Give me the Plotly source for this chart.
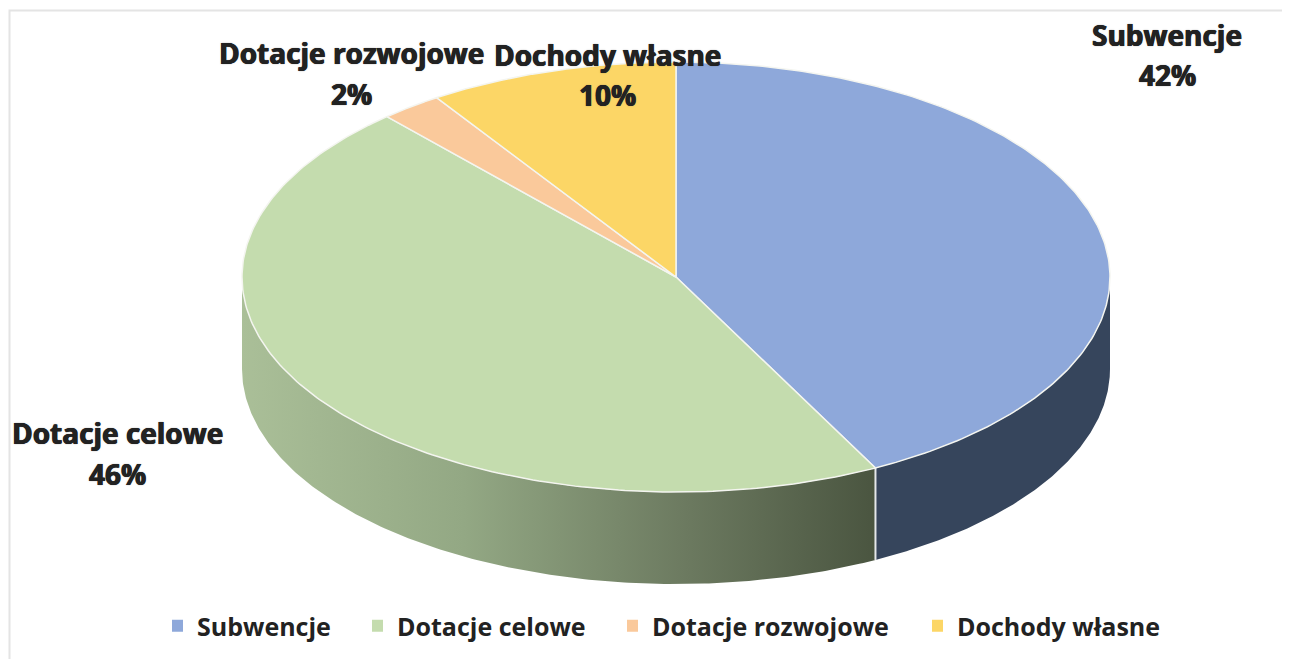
import numpy as np
import plotly.graph_objects as go

categories = ["Subwencje", "Dotacje celowe", "Dotacje rozwojowe", "Dochody własne"]
shares = [42.4, 46.0, 2.3, 9.3]
share_labels = ["42%", "46%", "2%", "10%"]
top_colors = ["#8EA8DA", "#C4DCAE", "#FAC99B", "#FCD666"]

# drawing geometry of the tilted disc (pixel-space axes)
CX, CY, RX, RY, DEPTH = 676, 277, 434, 215, 92
FONT = "'Open Sans', Lato, sans-serif"
TEXT = "#222222"
SHADOW = "0.5px 0 0 #222222, -0.5px 0 0 #222222, 0 0 1.5px #55555588"
# the page has an 8px body margin; the figure fills the rest of the window
OFF = 8
W, H = 1290, 659

def rim(t0, t1, dy=0.0, n=200):
    t = np.radians(np.linspace(t0, t1, n))
    return CX + RX * np.sin(t), CY - RY * np.cos(t) + dy

edges = np.concatenate([[0], np.cumsum(shares) / sum(shares) * 360])
fig = go.Figure()

def wall(t0, t1, **kw):
    x1, y1 = rim(t0, t1)
    x2, y2 = rim(t1, t0, DEPTH)
    fig.add_trace(go.Scatter(x=np.r_[x1, x2], y=np.r_[y1, y2], mode="lines", fill="toself",
                             line=dict(width=0), showlegend=False, hoverinfo="skip", **kw))

wall(90, edges[1], fillcolor="#36455C")
wall(edges[1], 270, fillgradient=dict(
    type="horizontal", start=CX - RX, stop=CX + 199,
    colorscale=[[0, "#AABF98"], [0.35, "#93A884"], [0.7, "#6C7A60"], [1, "#4A5540"]]))
bx, by = rim(edges[1], edges[1], n=1)
fig.add_trace(go.Scatter(x=[bx[0], bx[0]], y=[by[0], by[0] + DEPTH], mode="lines",
                         line=dict(color="#E4E7EA", width=2), showlegend=False, hoverinfo="skip"))

for i, name in enumerate(categories):
    x, y = rim(edges[i], edges[i + 1])
    fig.add_trace(go.Scatter(x=np.r_[CX, x, CX], y=np.r_[CY, y, CY], mode="lines", fill="toself",
                             fillcolor=top_colors[i], line=dict(color="#F4F5F0", width=1.5),
                             showlegend=False, hoverinfo="skip"))

# one legend per entry so that each can sit at its own horizontal position
legend_x = [172, 372, 627, 932]
legend_layout = {}
for i, name in enumerate(categories):
    key = "legend" if i == 0 else f"legend{i + 1}"
    fig.add_trace(go.Scatter(x=[None], y=[None], mode="markers", name=name, legend=key,
                             marker=dict(symbol="square", size=11, color=top_colors[i])))
    legend_layout[key] = dict(
        orientation="v", x=(legend_x[i] - OFF) / (W - OFF), xanchor="left",
        y=(H - 626) / (H - OFF), yanchor="middle",
        font=dict(family=FONT, size=25, color=TEXT, weight=700),
        indentation=-15, itemsizing="constant", bgcolor="rgba(0,0,0,0)")

label_pos = [(1167, 35, 75), (117, 433, 474), (351, 53, 94), (607, 55, 95)]
for name, pct, (lx, y1, y2) in zip(categories, share_labels, label_pos):
    for txt, ly in ((name, y1), (pct, y2)):
        fig.add_annotation(x=lx, y=ly, text=txt, showarrow=False, xanchor="center", yanchor="middle",
                           font=dict(family=FONT, size=28, color=TEXT, weight=700, shadow=SHADOW))

fig.add_shape(type="rect", x0=9.5, y0=10.5, x1=1300, y1=670,
              line=dict(color="#E4E4E4", width=2), fillcolor="rgba(0,0,0,0)", layer="below")

fig.update_layout(
    width=W - OFF, height=H - OFF, margin=dict(l=0, r=0, t=0, b=0),
    paper_bgcolor="white", plot_bgcolor="white",
    xaxis=dict(range=[OFF, W], visible=False, fixedrange=True),
    yaxis=dict(range=[H, OFF], visible=False, fixedrange=True),
    hovermode=False,
    **legend_layout,
)
fig.write_html("out.html")
